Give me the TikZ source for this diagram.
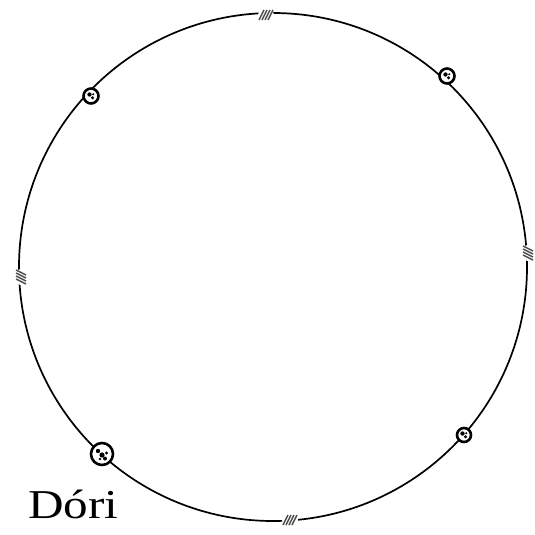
\documentclass[tikz,border=0pt]{standalone}
\usepackage{fontspec}
\usetikzlibrary{shapes.geometric}
\setmainfont{Liberation Serif}
\begin{document}
\begin{tikzpicture}[x=1pt,y=-1pt,
  orbit/.style={line width=1.7pt},
  planet/.style={circle,draw,fill=white,line width=2.6pt,inner sep=0pt,minimum size=#1},
  hatch/.style={ellipse,fill=white,inner sep=0pt,minimum width=12pt,minimum height=16pt}]
\useasboundingbox (0,0) rectangle (535,535);
\coordinate (c) at (273,267);
\draw[orbit] (c) circle [radius=254];
% hatched markers
\foreach \n/\x/\y/\r in {ht/266/15/90, hr/528/253/0, hb/290/520/90, hl/21/277/0}{
  \node[hatch,rotate=\r] (\n) at (\x,\y) {};
  \begin{scope}[shift={(\x,\y)},rotate=\r]
    \foreach \k in {-4.5,-1.5,1.5,4.5}{
      \draw[black!70,line width=1.5pt] (-5,\k-2.5) -- (5,\k+2.5);
    }
  \end{scope}
}
% planets
\node[planet=15pt] (p1) at (91,96) {};
\node[planet=15pt] (p2) at (447,76) {};
\node[planet=14pt] (p3) at (464,435) {};
\node[planet=22pt] (p4) at (102,454) {};
\foreach \p in {p1,p2,p3}{
  \fill (\p) ++(-1.5,-1.5) circle (2.2pt);
  \fill (\p) ++(1.5,1.8) circle (1.7pt);
  \fill (\p) ++(2.2,-1.8) circle (1.1pt);
}
\fill (p4) ++(-4,-3) circle (2.2pt);
\fill (p4) ++(0,1) circle (2.6pt);
\fill (p4) ++(3,4.5) circle (2pt);
\fill (p4) ++(4.5,-1) circle (1.6pt);
\fill (p4) ++(-2,5) circle (1.3pt);
\node[font=\fontsize{41}{41}\selectfont,anchor=base west,inner sep=0pt,xscale=1.2] (label) at (28,518) {Dóri};
\end{tikzpicture}
\end{document}
